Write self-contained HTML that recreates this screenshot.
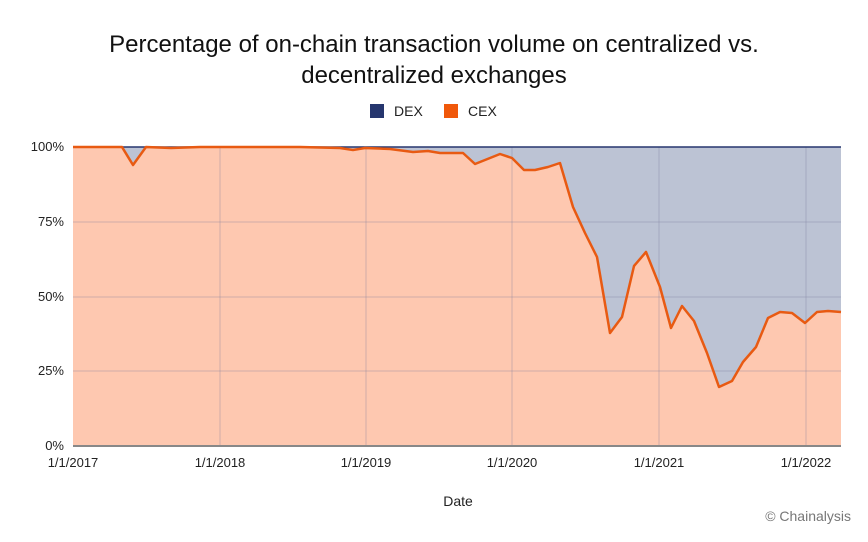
<!DOCTYPE html>
<html><head><style>
body{margin:0;background:#fff;width:868px;height:537px;overflow:hidden;font-family:"Liberation Sans",sans-serif;}
</style></head><body>
<svg width="868" height="537" xmlns="http://www.w3.org/2000/svg" font-family="Liberation Sans, sans-serif">
<text x="434" y="52" text-anchor="middle" font-size="24" fill="#111">Percentage of on-chain transaction volume on centralized vs.</text>
<text x="434" y="83" text-anchor="middle" font-size="24" fill="#111">decentralized exchanges</text>
<rect x="370" y="104" width="14" height="14" fill="#26366e"/>
<text x="394" y="116" font-size="14" fill="#222">DEX</text>
<rect x="444" y="104" width="14" height="14" fill="#f0580a"/>
<text x="468" y="116" font-size="14" fill="#222">CEX</text>
<rect x="73" y="147" width="768" height="299" fill="#bcc3d4"/>
<polygon fill="#fec8b0" points="73,446 73,147 122,147 133,165 146,147 171,148 200,147 300,147 340,148 353,150 365,148 390,149 413,152 428,151 440,153 463,153 475,164 480,162 500,154 512,158 524,170 535,170 548,167 560,163 573,207 585,233 597,257 610,333 622,317 634,266 646,252 660,287 671,328 682,306 694,321 707,353 719,387 732,381 743,362 756,347 768,318 780,312 792,313 805,323 817,312 828,311 841,312 841,446"/>
<g stroke="#7a7a9a" stroke-opacity="0.35" stroke-width="1">
<line x1="73" y1="222" x2="841" y2="222"/><line x1="73" y1="297" x2="841" y2="297"/><line x1="73" y1="371" x2="841" y2="371"/>
<line x1="220" y1="147" x2="220" y2="446"/><line x1="366" y1="147" x2="366" y2="446"/><line x1="512" y1="147" x2="512" y2="446"/><line x1="659" y1="147" x2="659" y2="446"/><line x1="806" y1="147" x2="806" y2="446"/>
</g>
<line x1="73" y1="147" x2="841" y2="147" stroke="#26366e" stroke-width="1.5"/>
<polyline fill="none" stroke="#e85a12" stroke-width="2.5" stroke-linejoin="round" points="73,147 122,147 133,165 146,147 171,148 200,147 300,147 340,148 353,150 365,148 390,149 413,152 428,151 440,153 463,153 475,164 480,162 500,154 512,158 524,170 535,170 548,167 560,163 573,207 585,233 597,257 610,333 622,317 634,266 646,252 660,287 671,328 682,306 694,321 707,353 719,387 732,381 743,362 756,347 768,318 780,312 792,313 805,323 817,312 828,311 841,312"/>
<line x1="73" y1="446" x2="841" y2="446" stroke="#888" stroke-width="2"/>
<g font-size="13" fill="#222" text-anchor="end">
<text x="64" y="151">100%</text><text x="64" y="226">75%</text><text x="64" y="301">50%</text><text x="64" y="375">25%</text><text x="64" y="450">0%</text>
</g>
<g font-size="13" fill="#222" text-anchor="middle">
<text x="73" y="467">1/1/2017</text><text x="220" y="467">1/1/2018</text><text x="366" y="467">1/1/2019</text><text x="512" y="467">1/1/2020</text><text x="659" y="467">1/1/2021</text><text x="806" y="467">1/1/2022</text>
</g>
<text x="458" y="506" text-anchor="middle" font-size="14" fill="#222">Date</text>
<text x="851" y="521" text-anchor="end" font-size="14" fill="#777">© Chainalysis</text>
</svg>
</body></html>
